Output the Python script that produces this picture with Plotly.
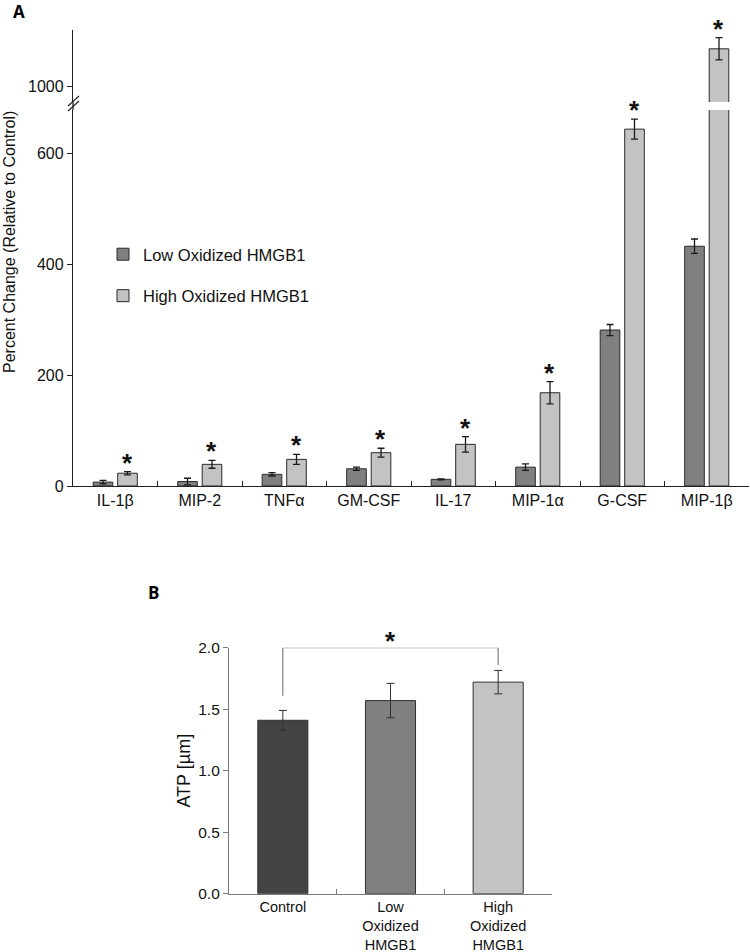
import plotly.graph_objects as go

# ---------------- Data ----------------
cytokines = ['IL-1β', 'MIP-2', 'TNFα', 'GM-CSF', 'IL-17', 'MIP-1α', 'G-CSF', 'MIP-1β']
low_vals = [7, 8, 21, 31, 12, 34, 281, 432]
low_err = [3, 6, 3, 3, 1, 6, 10, 13]
high_vals = [23, 39, 48, 60, 75, 168, 643, 1067]
high_err = [3, 7, 9, 8, 14, 20, 18, 20]
significant_a = [True] * 8

groups_b = ['Control', 'Low<br>Oxidized<br>HMGB1', 'High<br>Oxidized<br>HMGB1']
atp_vals = [1.41, 1.57, 1.72]
atp_err = [0.08, 0.14, 0.095]

lower_ticks = [0, 200, 400, 600]
upper_ticks = [1000]

W, H = 750, 952
def px_x(p):
    return p / W
def px_y(p):
    return 1 - p / H

FONT = 'Liberation Sans, Arial, sans-serif'
C_LOW = '#808080'
C_HIGH = '#c3c3c3'
C_CTRL = '#434343'
OUT = '#2a2a2a'

# scale of panel A (px per unit) and broken axis ranges
ax_left, ax_right = 73, 749
y0_px, y200_px = 486, 375
ppu = (y0_px - y200_px) / 200.0
low_top_px, up_bot_px, up_top_px = 110, 102, 30
tick1000_px = 86
lower_max = (y0_px - low_top_px) / ppu
upper_min = 1000 - (up_bot_px - tick1000_px) / ppu
upper_max = 1000 + (tick1000_px - up_top_px) / ppu

fig = go.Figure()

err_style = dict(type='data', thickness=1.3, width=3.5, color='#1a1a1a')

for ya, xa, show in [('y', 'x', True), ('y2', 'x2', False)]:
    fig.add_trace(go.Bar(
        x=cytokines, y=low_vals, name='Low Oxidized HMGB1',
        marker=dict(color=C_LOW, line=dict(color=OUT, width=1)),
        error_y=dict(array=low_err, **err_style),
        xaxis=xa, yaxis=ya, showlegend=show, legendgroup='low'))
    fig.add_trace(go.Bar(
        x=cytokines, y=high_vals, name='High Oxidized HMGB1',
        marker=dict(color=C_HIGH, line=dict(color=OUT, width=1)),
        error_y=dict(array=high_err, **err_style),
        xaxis=xa, yaxis=ya, showlegend=show, legendgroup='high'))

# Panel B
fig.add_trace(go.Bar(
    x=groups_b, y=atp_vals,
    marker=dict(color=[C_CTRL, C_LOW, C_HIGH], line=dict(color='#303030', width=1)),
    error_y=dict(type='data', array=atp_err, thickness=1, width=4, color='#303030'),
    xaxis='x3', yaxis='y3', showlegend=False, width=0.465))

tickfont_a = dict(family=FONT, size=16, color='#111')

fig.update_layout(
    width=W, height=H, autosize=False,
    margin=dict(l=0, r=0, t=0, b=0, pad=0, autoexpand=False),
    paper_bgcolor='white', plot_bgcolor='rgba(0,0,0,0)',
    font=dict(family=FONT, color='#111'),
    barmode='group', bargap=0.42, bargroupgap=0.2,
    legend=dict(x=px_x(103), y=px_y(237), xanchor='left', yanchor='top',
                font=dict(family=FONT, size=16.5, color='#111'),
                tracegroupgap=17, bgcolor='rgba(0,0,0,0)',
                itemwidth=30),
    xaxis=dict(domain=[px_x(ax_left), px_x(ax_right)], anchor='y', automargin=False,
               showline=True, linecolor='#222', linewidth=1.3,
               ticks='inside', tickson='boundaries', ticklen=5, tickcolor='#222',
               tickfont=tickfont_a, showgrid=False, zeroline=False),
    yaxis=dict(domain=[px_y(y0_px), px_y(low_top_px)], range=[0, lower_max],
               anchor='x', automargin=False, showline=True, linecolor='#222', linewidth=1.3,
               ticks='outside', ticklen=5, tickcolor='#222',
               tickvals=lower_ticks, tickfont=tickfont_a,
               showgrid=False, zeroline=False),
    xaxis2=dict(domain=[px_x(ax_left), px_x(ax_right)], anchor='y2', matches='x',
                visible=False, automargin=False),
    yaxis2=dict(domain=[px_y(up_bot_px), px_y(up_top_px)], range=[upper_min, upper_max],
                anchor='x2', automargin=False, showline=True, linecolor='#222', linewidth=1.3,
                ticks='outside', ticklen=5, tickcolor='#222',
                tickvals=upper_ticks, tickfont=tickfont_a,
                showgrid=False, zeroline=False),
    xaxis3=dict(domain=[px_x(229), px_x(552)], anchor='y3', automargin=False,
                showline=True, linecolor='#7a7a7a', linewidth=1.2,
                ticks='inside', tickson='boundaries', ticklen=5, tickcolor='#7a7a7a',
                tickfont=dict(family=FONT, size=14.5, color='#111'),
                showgrid=False, zeroline=False),
    yaxis3=dict(domain=[px_y(893.7), px_y(647.7)], range=[0, 2.0], anchor='x3',
                automargin=False, showline=True, linecolor='#7a7a7a', linewidth=1.2,
                ticks='outside', ticklen=5, tickcolor='#7a7a7a',
                tickvals=[0, 0.5, 1.0, 1.5, 2.0], ticktext=['0.0', '0.5', '1.0', '1.5', '2.0'],
                tickfont=dict(family=FONT, size=15.5, color='#111'),
                title=dict(text='ATP [µm]', font=dict(family=FONT, size=18, color='#111'),
                           standoff=2),
                showgrid=False, zeroline=False),
)

annotations = []
# significance asterisks panel A
for i, c in enumerate(cytokines):
    if not significant_a[i]:
        continue
    top = high_vals[i] + high_err[i]
    yref = 'y2' if top > lower_max else 'y'
    xref = 'x2' if yref == 'y2' else 'x'
    annotations.append(dict(x=c, y=top, xref=xref, yref=yref, text='<b>*</b>',
                            showarrow=False, yanchor='bottom', xshift=12,
                            font=dict(family=FONT, size=26, color='#111'), yshift=-8))

# Panel labels and titles
annotations.append(dict(x=px_x(11), y=px_y(12), xref='paper', yref='paper', text='<b>A</b>',
                        showarrow=False, xanchor='left', yanchor='middle',
                        font=dict(family='Open Sans, sans-serif', size=17, color='#000')))
annotations.append(dict(x=px_x(146), y=px_y(592), xref='paper', yref='paper', text='<b>B</b>',
                        showarrow=False, xanchor='left', yanchor='middle',
                        font=dict(family='Open Sans, sans-serif', size=17, color='#000')))
annotations.append(dict(x=px_x(9), y=px_y(242), xref='paper', yref='paper',
                        text='Percent Change (Relative to Control)', textangle=-90,
                        showarrow=False, xanchor='center', yanchor='middle',
                        font=dict(family=FONT, size=16, color='#111')))

# Panel B bracket and asterisk
bracket_top = 2.0
left_bot = atp_vals[0] + atp_err[0] + 0.12
right_bot = atp_vals[2] + atp_err[2] + 0.045
shapes = [
    dict(type='line', xref='x3', yref='y3', x0=0, x1=0, y0=left_bot, y1=bracket_top,
         line=dict(color='#8a8a8a', width=1.3)),
    dict(type='line', xref='x3', yref='y3', x0=0, x1=2, y0=bracket_top, y1=bracket_top,
         line=dict(color='#8a8a8a', width=1.3)),
    dict(type='line', xref='x3', yref='y3', x0=2, x1=2, y0=right_bot, y1=bracket_top,
         line=dict(color='#8a8a8a', width=1.3)),
]
annotations.append(dict(x=1, y=bracket_top, xref='x3', yref='y3', text='<b>*</b>',
                        showarrow=False, yanchor='bottom', yshift=-10,
                        font=dict(family=FONT, size=26, color='#111')))

# Axis break: connect axis line and draw // marks
shapes.append(dict(type='line', xref='paper', yref='paper',
                   x0=px_x(ax_left), x1=px_x(ax_left), y0=px_y(low_top_px), y1=px_y(up_bot_px),
                   line=dict(color='#222', width=1.3)))
for off in (0, 5):
    shapes.append(dict(type='line', xref='paper', yref='paper',
                       x0=px_x(68), x1=px_x(79), y0=px_y(111 - off), y1=px_y(101 - off),
                       line=dict(color='#222', width=1.2)))

fig.update_layout(annotations=annotations, shapes=shapes)

fig.write_html('out.html', config={'displayModeBar': False},
               post_script="document.body.style.margin='0px';"
                           "document.documentElement.style.overflow='hidden';")
